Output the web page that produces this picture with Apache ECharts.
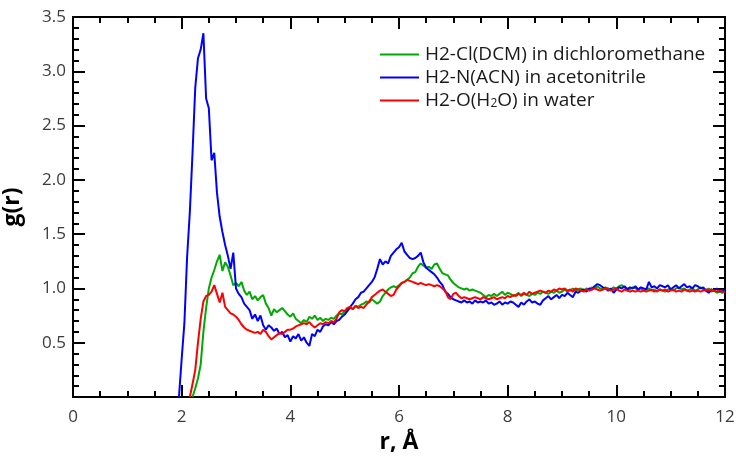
<!DOCTYPE html>
<html>
<head>
<meta charset="utf-8">
<title>g(r)</title>
<script src="https://cdn.jsdelivr.net/npm/echarts@6/dist/echarts.min.js"></script>
<style>
  html, body { margin: 0; padding: 0; background: #fff; }
  #chart { width: 736px; height: 459px; }
</style>
</head>
<body>
<div id="chart"></div>
<script>
// Radial distribution functions g(r), sampled on r = 1.90 ... 12.00 Å, step 0.05 Å
const rStart = 1.9;
const rStep = 0.05;

const seriesNames = [
  'H2-Cl(DCM) in dichloromethane',
  'H2-N(ACN) in acetonitrile',
  'H2-O(H2O) in water'
];

const gDCM = [
  null, null, null, null, null, null, 0.00, 0.08, 0.17, 0.30,
  0.60, 0.82, 1.00, 1.10, 1.17, 1.25, 1.31, 1.16, 1.24, 1.20,
  1.12, 1.03, 1.05, 1.02, 1.06, 0.98, 0.94, 0.97, 0.90, 0.93,
  0.89, 0.92, 0.94, 0.86, 0.82, 0.75, 0.81, 0.78, 0.80, 0.82,
  0.79, 0.76, 0.74, 0.77, 0.72, 0.70, 0.68, 0.71, 0.69, 0.74,
  0.72, 0.75, 0.71, 0.73, 0.70, 0.72, 0.71, 0.73, 0.72, 0.75,
  0.77, 0.76, 0.79, 0.80, 0.82, 0.81, 0.84, 0.83, 0.85, 0.86,
  0.88, 0.87, 0.90, 0.88, 0.86, 0.88, 0.93, 0.96, 0.99, 1.01,
  1.02, 1.01, 1.03, 1.05, 1.06, 1.08, 1.10, 1.14, 1.15, 1.20,
  1.23, 1.21, 1.19, 1.20, 1.18, 1.22, 1.23, 1.18, 1.14, 1.13,
  1.12, 1.08, 1.05, 1.03, 1.01, 1.00, 0.99, 1.00, 0.98, 0.99,
  0.98, 0.97, 0.96, 0.94, 0.92, 0.94, 0.93, 0.95, 0.93, 0.95,
  0.97, 0.94, 0.96, 0.95, 0.93, 0.94, 0.96, 0.93, 0.95, 0.94,
  0.93, 0.95, 0.94, 0.96, 0.95, 0.97, 0.96, 0.95, 0.97, 0.96,
  0.98, 0.96, 0.97, 0.99, 0.97, 0.98, 1.00, 0.98, 0.99, 1.00,
  0.98, 1.00, 0.99, 1.01, 1.00, 1.02, 1.00, 0.99, 1.01, 1.00,
  0.99, 1.01, 1.00, 1.02, 1.03, 1.01, 1.00, 0.99, 1.01, 1.00,
  0.99, 1.00, 0.98, 0.99, 1.00, 0.98, 0.99, 0.97, 0.99, 0.98,
  0.97, 0.99, 1.00, 0.98, 1.00, 1.01, 0.99, 1.00, 0.98, 0.99,
  1.00, 0.98, 0.99, 1.01, 0.99, 0.98, 1.00, 0.97, 0.98, 0.96,
  0.97, 0.96, 0.97
];

const gACN = [
  null, 0.00, 0.35, 0.68, 1.29, 1.70, 2.25, 2.85, 3.12, 3.20,
  3.35, 2.75, 2.66, 2.18, 2.25, 1.88, 1.66, 1.52, 1.40, 1.30,
  1.18, 1.33, 1.00, 0.95, 0.92, 0.86, 0.83, 0.80, 0.72, 0.76,
  0.70, 0.75, 0.66, 0.62, 0.66, 0.64, 0.61, 0.63, 0.58, 0.60,
  0.55, 0.57, 0.51, 0.56, 0.54, 0.58, 0.52, 0.55, 0.50, 0.47,
  0.58, 0.56, 0.62, 0.60, 0.65, 0.67, 0.66, 0.69, 0.67, 0.70,
  0.71, 0.74, 0.76, 0.79, 0.83, 0.86, 0.90, 0.92, 0.96, 0.97,
  1.00, 1.03, 1.06, 1.10, 1.18, 1.27, 1.22, 1.25, 1.23, 1.30,
  1.33, 1.36, 1.38, 1.42, 1.34, 1.31, 1.28, 1.27, 1.28, 1.30,
  1.33, 1.24, 1.19, 1.17, 1.15, 1.13, 1.10, 1.06, 1.03, 0.97,
  0.95, 0.92, 0.90, 0.89, 0.88, 0.87, 0.89, 0.87, 0.88, 0.86,
  0.89, 0.87, 0.88, 0.87, 0.89, 0.86, 0.87, 0.85, 0.86, 0.88,
  0.85, 0.87, 0.86, 0.88, 0.87, 0.85, 0.83, 0.87, 0.85, 0.88,
  0.90, 0.87, 0.88, 0.86, 0.85, 0.89, 0.91, 0.93, 0.90, 0.92,
  0.94, 0.91, 0.94, 0.93, 0.96, 0.94, 0.92, 0.97, 0.96, 0.98,
  0.99, 0.97, 1.00, 0.99, 1.02, 1.04, 1.03, 1.01, 1.00, 0.98,
  1.00, 0.96, 0.99, 1.01, 1.00, 1.02, 0.99, 1.01, 1.00, 1.02,
  0.99, 1.01, 1.00, 0.99, 1.06, 1.01, 1.02, 1.00, 1.03, 1.02,
  1.01, 1.03, 0.99, 1.01, 1.03, 1.00, 1.02, 1.04, 1.01, 1.02,
  1.00, 1.03, 1.02, 1.00, 1.01, 0.98, 0.96, 0.99, 0.98, 1.00,
  0.97, 0.99, 0.97
];

const gH2O = [
  null, null, null, null, null, 0.00, 0.12, 0.25, 0.50, 0.72,
  0.88, 0.93, 0.94, 0.97, 1.03, 0.95, 0.87, 0.96, 0.83, 0.80,
  0.77, 0.76, 0.74, 0.71, 0.67, 0.64, 0.62, 0.61, 0.60, 0.59,
  0.60, 0.58, 0.62, 0.60, 0.56, 0.53, 0.55, 0.57, 0.59, 0.58,
  0.60, 0.62, 0.62, 0.63, 0.65, 0.66, 0.67, 0.68, 0.67, 0.69,
  0.66, 0.64, 0.66, 0.68, 0.67, 0.69, 0.68, 0.70, 0.69, 0.72,
  0.78, 0.80, 0.79, 0.82, 0.83, 0.81, 0.84, 0.82, 0.83, 0.82,
  0.85, 0.88, 0.92, 0.94, 0.96, 0.98, 0.99, 0.97, 0.95, 0.93,
  0.94, 0.99, 1.02, 1.05, 1.06, 1.08, 1.07, 1.06, 1.05, 1.04,
  1.05, 1.04, 1.03, 1.04, 1.03, 1.02, 1.03, 1.02, 1.00, 0.98,
  0.92, 0.90, 0.95, 0.96, 0.93, 0.91, 0.92, 0.91, 0.90, 0.91,
  0.92, 0.91, 0.90, 0.92, 0.91, 0.90, 0.91, 0.92, 0.90, 0.91,
  0.92, 0.91, 0.93, 0.92, 0.94, 0.93, 0.95, 0.94, 0.96, 0.94,
  0.97, 0.95, 0.96, 0.97, 0.98, 0.97, 0.96, 0.98, 0.97, 0.99,
  0.98, 1.00, 0.99, 1.00, 0.98, 0.99, 0.97, 1.00, 0.99, 0.98,
  0.97, 0.99, 0.98, 0.99, 1.00, 0.99, 0.98, 0.99, 1.00, 0.99,
  0.98, 0.99, 1.00, 0.98, 0.97, 0.99, 0.98, 0.97, 0.98, 0.97,
  0.98, 0.97, 0.98, 0.97, 0.98, 0.99, 0.97, 0.98, 0.99, 0.98,
  0.99, 0.97, 0.98, 0.99, 0.97, 0.98, 0.97, 0.99, 0.98, 0.97,
  0.98, 0.97, 0.98, 0.97, 0.98, 0.99, 0.98, 0.99, 0.98, 0.97,
  0.98, 0.97, 0.97
];

const lineColors = ['#00aa00', '#0000ff', '#ff0000'];

function toPairs(values) {
  const out = [];
  values.forEach((v, i) => {
    if (v !== null) out.push([+(rStart + i * rStep).toFixed(2), v]);
  });
  return out;
}

const FONT = '"Open Sans", "DejaVu Sans", sans-serif';
const AXIS_COLOR = '#000000';

function frameAxis(extra, minorSplit) {
  return Object.assign({
    type: 'value',
    axisLine: { show: true, onZero: false, lineStyle: { color: AXIS_COLOR, width: 2, opacity: 1 } },
    axisTick: { show: true, inside: true, length: 12, lineStyle: { color: AXIS_COLOR, width: 2, opacity: 1 } },
    minorTick: { show: true, splitNumber: minorSplit, length: 6, lineStyle: { color: AXIS_COLOR, width: 2, opacity: 1 } },
    splitLine: { show: false },
    minorSplitLine: { show: false }
  }, extra);
}

const chart = echarts.init(document.getElementById('chart'), null, { renderer: 'canvas' });

chart.setOption({
  animation: false,
  backgroundColor: '#fff',
  textStyle: { fontFamily: FONT },
  grid: { left: 73, right: 11, top: 17, bottom: 62, containLabel: false, outerBoundsMode: 'none' },
  legend: {
    orient: 'vertical',
    left: 375,
    top: 40,
    icon: 'rect',
    itemWidth: 39,
    itemHeight: 2,
    itemGap: 4,
    selectedMode: false,
    data: seriesNames,
    formatter: function (name) {
      if (name === seriesNames[2]) {
        return '{t|H2-O(H}{s|2}{t|O) in water}';
      }
      return '{t|' + name + '}';
    },
    textStyle: {
      color: '#1a1a1a',
      fontFamily: FONT,
      fontSize: 19,
      padding: [0, 0, 0, 1],
      rich: {
        t: { fontFamily: FONT, fontSize: 19, color: '#1a1a1a', lineHeight: 19 },
        s: { fontFamily: FONT, fontSize: 12, color: '#1a1a1a', lineHeight: 19, verticalAlign: 'bottom', padding: [7, 0, 0, 0] }
      }
    }
  },
  xAxis: [
    frameAxis({
      position: 'bottom',
      min: 0, max: 12, interval: 2,
      name: 'r, Å',
      nameLocation: 'middle',
      nameGap: 34,
      nameTextStyle: { fontFamily: FONT, fontSize: 23, fontWeight: 'bold', color: '#000' },
      axisLabel: { show: true, margin: 12, color: '#3c3c3c', fontSize: 17, fontFamily: FONT }
    }, 4),
    frameAxis({
      position: 'top',
      min: 0, max: 12, interval: 2,
      axisLabel: { show: false }
    }, 4)
  ],
  yAxis: [
    frameAxis({
      position: 'left',
      min: 0, max: 3.5, interval: 0.5,
      name: 'g(r)',
      nameLocation: 'middle',
      nameGap: 49,
      nameTextStyle: { fontFamily: FONT, fontSize: 23, fontWeight: 'bold', color: '#000' },
      axisLabel: {
        show: true, margin: 7, color: '#3c3c3c', fontSize: 17, fontFamily: FONT,
        formatter: v => (v === 0 ? '' : v.toFixed(1))
      }
    }, 5),
    frameAxis({
      position: 'right',
      min: 0, max: 3.5, interval: 0.5,
      axisLabel: { show: false }
    }, 5)
  ],
  series: [gDCM, gACN, gH2O].map((g, k) => ({
    name: seriesNames[k],
    type: 'line',
    xAxisIndex: 0,
    yAxisIndex: 0,
    data: toPairs(g),
    showSymbol: false,
    symbol: 'none',
    smooth: false,
    lineStyle: { color: lineColors[k], width: 2 },
    itemStyle: { color: lineColors[k] },
    z: 2 + k
  }))
});
</script>
</body>
</html>
